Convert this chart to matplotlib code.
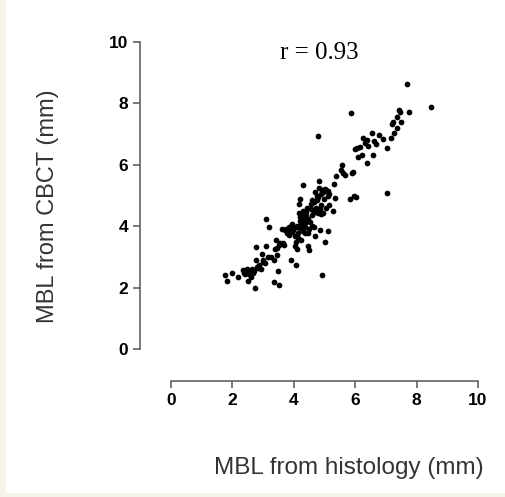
import matplotlib
matplotlib.use("Agg")
import matplotlib.pyplot as plt
from matplotlib.patches import Rectangle
import numpy as np

# MBL values (mm)
histology_mm = [
    1.76, 1.83, 2.00, 2.18, 2.33, 2.37, 2.46, 2.52, 2.55, 2.60, 2.63, 2.68,
    2.75, 2.77, 2.78, 2.79, 2.88, 2.93, 2.98, 3.01, 3.06, 3.11, 3.10, 3.20,
    3.25, 3.34, 3.37, 3.39, 3.42, 3.46, 3.50, 3.52, 3.53, 3.60, 3.64, 3.69,
    3.75, 3.79, 3.83, 3.88, 3.90, 3.94, 3.98, 4.03, 4.06, 4.08, 4.09, 4.12,
    4.15, 4.17, 4.18, 4.19, 4.20, 4.22, 4.24, 4.27, 4.29, 4.31, 4.33, 4.35,
    4.38, 4.40, 4.42, 4.45, 4.47, 4.51, 4.53, 4.55, 4.58, 4.62, 4.65, 4.68,
    4.70, 4.72, 4.75, 4.78, 4.80, 4.82, 4.83, 4.85, 4.88, 4.90, 4.91, 4.93,
    4.96, 4.98, 5.02, 5.05, 5.10, 5.13, 5.16, 5.29, 5.32, 5.35, 5.37, 5.53,
    5.56, 5.61, 5.67, 5.83, 5.85, 5.88, 5.92, 5.96, 5.98, 6.03, 6.05, 6.10,
    6.16, 6.22, 6.27, 6.32, 6.37, 6.40, 6.43, 6.54, 6.57, 6.62, 6.67, 6.76,
    6.92, 7.02, 7.02, 7.16, 7.19, 7.24, 7.27, 7.35, 7.37, 7.42, 7.46, 7.49,
    7.70, 7.74, 8.47,
    4.25, 4.35, 4.45, 4.30, 4.20, 4.60, 4.70, 4.85, 4.95, 5.00, 5.10, 4.75,
    4.65, 4.55, 4.40, 4.10, 3.95, 3.70, 3.55, 3.45, 4.15, 4.05, 4.50, 4.60,
    4.90, 5.05, 2.70, 2.85, 2.50, 2.40, 3.00, 3.15, 4.30, 4.20, 4.80, 5.15,
    4.00, 3.85,
]
cbct_mm = [
    2.41, 2.20, 2.47, 2.33, 2.56, 2.47, 2.62, 2.20, 2.45, 2.36, 2.60, 2.49,
    2.00, 2.91, 3.32, 2.66, 2.74, 2.60, 3.10, 2.91, 2.80, 3.36, 4.24, 3.96,
    2.99, 2.19, 2.91, 3.25, 3.56, 3.07, 2.53, 2.09, 3.39, 3.90, 3.45, 3.40,
    3.90, 3.77, 3.99, 3.85, 2.91, 4.08, 3.88, 3.69, 3.50, 2.74, 3.99, 3.25,
    3.77, 4.43, 4.73, 4.90, 4.16, 3.56, 4.26, 3.93, 4.51, 5.35, 4.21, 3.77,
    3.99, 4.32, 4.59, 3.77, 3.34, 3.23, 4.15, 4.73, 4.86, 4.53, 3.99, 3.67,
    5.10, 4.59, 4.86, 6.93, 4.43, 5.46, 5.24, 3.88, 4.70, 5.04, 2.41, 5.18,
    4.43, 4.88, 3.48, 5.18, 4.97, 3.83, 4.70, 4.48, 5.37, 4.91, 5.62, 5.84,
    6.00, 5.73, 5.67, 4.90, 7.68, 5.73, 5.76, 4.97, 6.51, 4.95, 6.54, 6.27,
    6.59, 6.32, 6.87, 6.70, 6.81, 6.05, 6.61, 7.03, 6.32, 6.76, 6.68, 6.98,
    6.83, 6.55, 5.07, 6.87, 7.33, 7.41, 7.03, 7.19, 7.55, 7.79, 7.72, 7.38,
    8.62, 7.71, 7.88,
    4.05, 4.12, 4.25, 3.85, 3.95, 4.35, 4.45, 4.55, 5.10, 5.20, 5.15, 5.00,
    4.80, 4.55, 4.45, 4.00, 3.80, 3.88, 3.45, 3.30, 3.60, 3.35, 3.90, 4.00,
    4.40, 4.60, 2.55, 2.65, 2.50, 2.45, 2.85, 3.00, 4.35, 4.30, 4.95, 5.05,
    3.95, 3.70,
]
r_value = 0.93

SPINE_COLOR = "#555555"

fig = plt.figure(figsize=(5.06, 4.97), dpi=100, facecolor="#f6f3ea")
# white page with a faint beige strip on the left and bottom edges
fig.patches.append(
    Rectangle((6 / 506, 4 / 497), 1.0, 1.0,
              transform=fig.transFigure, facecolor="white",
              edgecolor="none", zorder=-5)
)

ax = fig.add_axes([171 / 506, 1 - 349 / 497, 307 / 506, 307 / 497])
ax.set_facecolor("none")

ax.scatter(histology_mm, cbct_mm, s=17, color="black", linewidths=0,
           zorder=3, clip_on=False)

ax.set_xlim(0, 10)
ax.set_ylim(0, 10)
ax.set_xticks(np.arange(0, 11, 2))
ax.set_yticks(np.arange(0, 11, 2))

for side in ["top", "right"]:
    ax.spines[side].set_visible(False)
ax.spines["left"].set_position(("outward", 22))
ax.spines["bottom"].set_position(("outward", 23))
for side in ["left", "bottom"]:
    ax.spines[side].set_color(SPINE_COLOR)
    ax.spines[side].set_linewidth(1.1)

ax.tick_params(axis="both", length=5, width=1.1, color=SPINE_COLOR,
               labelsize=12.5, pad=4)
for lab in ax.get_xticklabels() + ax.get_yticklabels():
    lab.set_fontweight("bold")
    lab.set_fontfamily("Liberation Sans")

fig.text(48 / 506, 1 - 206 / 497, "MBL from CBCT (mm)", rotation=90,
         ha="center", va="center", fontsize=17, color="#333333",
         family="Liberation Sans")
fig.text(484 / 506, 1 - 468 / 497, "MBL from histology (mm)",
         ha="right", va="center", fontsize=17.5, color="#333333",
         family="Liberation Sans")
fig.text(319 / 506, 1 - 53 / 497, f"r = {r_value:.2f}", ha="center",
         va="center", fontsize=18, color="black", family="Liberation Serif")

fig.savefig("out.png", dpi=100, facecolor=fig.get_facecolor())
